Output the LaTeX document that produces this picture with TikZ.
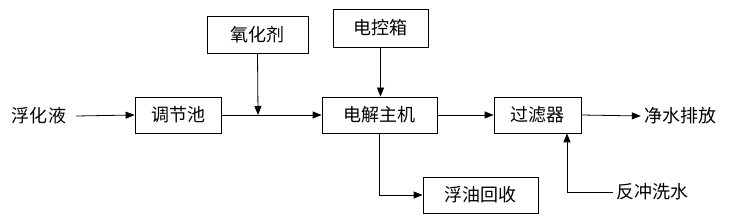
\documentclass[tikz,border=0pt]{standalone}
\usepackage{fontspec}
\newfontfamily\cjk{Noto Sans CJK SC}
\usetikzlibrary{arrows.meta, calc}

\begin{document}
\begin{tikzpicture}[x=1pt, y=-1pt,
    boxstyle/.style={draw, thick, font=\cjk\fontsize{18}{21}\selectfont, minimum height=36pt, inner sep=2pt},
    labelstyle/.style={font=\cjk\fontsize{18}{21}\selectfont, inner sep=3pt},
    flowstyle/.style={-{Triangle[length=9pt, width=7pt]}, thick}]
  \useasboundingbox (0,0) rectangle (730,224);
  % main line
  \node[labelstyle] (feed) at (39,116) {浮化液};
  \node[boxstyle, minimum width=86pt] (tank) at (178,115) {调节池};
  \node[boxstyle, minimum width=115pt] (host) at (379.5,115) {电解主机};
  \node[boxstyle, minimum width=87pt] (filter) at (537.5,115) {过滤器};
  \node[labelstyle] (clean) at (680,116) {净水排放};
  % boxes above and below
  \node[boxstyle, minimum width=101pt, minimum height=37pt] (oxid) at (257.5,34.5) {氧化剂};
  \node[boxstyle, minimum width=95pt, minimum height=38pt] (ctrl) at (380.5,28) {电控箱};
  \node[boxstyle, minimum width=115pt] (oil) at (480.5,195) {浮油回收};
  \node[labelstyle] (wash) at (652,192) {反冲洗水};
  % joint point of the oxidizer feed
  \coordinate (join) at (258,115);
  % connectors
  \draw[flowstyle] ([xshift=7pt]feed.east) -- (tank.west);
  \draw[flowstyle] (tank.east) -- (host.west);
  \draw[flowstyle] (oxid.south) -- (join);
  \draw[flowstyle] (ctrl.south) -- (ctrl.south |- host.north);
  \draw[flowstyle] (host.east) -- (filter.west);
  \draw[flowstyle] (filter.east) -- (clean.west);
  \draw[flowstyle] (host.south) |- (oil.west);
  \draw[flowstyle] (wash.west) -| ([xshift=29.5pt]filter.south);
\end{tikzpicture}
\end{document}
